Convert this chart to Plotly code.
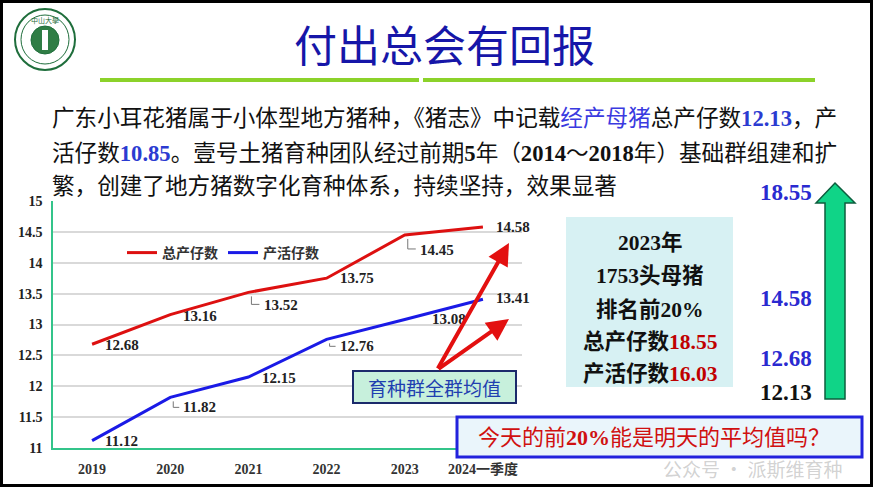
import plotly.graph_objects as go

# ---------------- data ----------------
categories = ["2019", "2020", "2021", "2022", "2023", "2024一季度"]
total_born = [12.68, 13.16, 13.52, 13.75, 14.45, 14.58]   # 总产仔数
born_alive = [11.12, 11.82, 12.15, 12.76, 13.08, 13.41]   # 产活仔数
series_names = ["总产仔数", "产活仔数"]
y_ticks = [11, 11.5, 12, 12.5, 13, 13.5, 14, 14.5, 15]
right_values = ["18.55", "14.58", "12.68", "12.13"]
box_lines = ["2023年", "1753头母猪", "排名前20%"]
top20_total, top20_alive = "18.55", "16.03"

# label offsets (pixels) for data labels: (xshift, yshift)
red_offsets = [(11, -1), (11, -1), (14, -13), (11, 0), (13, -15), (11, 0)]
blue_offsets = [(11, 0), (11, -10), (12, -1), (11, -7), (25, 1), (11, 1)]
# leader lines (pixel path relative to point), None = no leader
red_leaders = [None, None, "M 3,-4 L 3,-12 L 11,-12", None, "M 3,-4 L 3,-14 L 11,-14", None]
blue_leaders = [None, "M 3,-4 L 3,-10 L 9,-10", None, "M 3,-4 L 3,-7 L 9,-7", None, None]

W, H = 873, 487
def px(x): return x / W
def py(y): return 1 - y / H

CJK = "Noto Sans CJK SC"
SERIF = "Liberation Serif"
RED = "#dd1010"
BLUE = "#1a1ae6"

fig = go.Figure()
fig.add_trace(go.Scatter(x=categories, y=total_born, mode="lines", name=series_names[0],
                         line=dict(color=RED, width=3)))
fig.add_trace(go.Scatter(x=categories, y=born_alive, mode="lines", name=series_names[1],
                         line=dict(color=BLUE, width=3)))

ann = []
shapes = []

def text(x, y, t, size, color, family=CJK, xa="center", ya="middle", weight="normal"):
    ann.append(dict(x=px(x), y=py(y), xref="paper", yref="paper", text=t, showarrow=False,
                    xanchor=xa, yanchor=ya,
                    font=dict(family=family, size=size, color=color, weight=weight)))

# data labels
for series, offs, leaders in ((total_born, red_offsets, red_leaders), (born_alive, blue_offsets, blue_leaders)):
    for i, (v, (xs, ys), ld) in enumerate(zip(series, offs, leaders)):
        ann.append(dict(x=i, y=v, xref="x", yref="y", text=f"{v:.2f}", showarrow=False,
                        xanchor="left", yanchor="middle", xshift=xs, yshift=ys,
                        font=dict(family=SERIF, size=15, color="#222222", weight="bold")))
        if ld:
            shapes.append(dict(type="path", xref="x", yref="y", xsizemode="pixel", ysizemode="pixel",
                               xanchor=i, yanchor=v, path=ld, line=dict(color="#777777", width=1)))

# frame
shapes.append(dict(type="rect", xref="paper", yref="paper", x0=0, y0=0, x1=1, y1=1,
                   line=dict(color="black", width=6), layer="above"))

# logo
shapes.append(dict(type="circle", xref="paper", yref="paper", x0=px(15), x1=px(75), y0=py(70), y1=py(9),
                   line=dict(color="#1f6e3c", width=2), fillcolor="white"))
shapes.append(dict(type="circle", xref="paper", yref="paper", x0=px(21), x1=px(69), y0=py(64), y1=py(15),
                   line=dict(color="#1f6e3c", width=1), fillcolor="white"))
shapes.append(dict(type="circle", xref="paper", yref="paper", x0=px(31), x1=px(59), y0=py(54), y1=py(26),
                   line=dict(color="#1f6e3c", width=1), fillcolor="#2f7d45"))
shapes.append(dict(type="rect", xref="paper", yref="paper", x0=px(42), x1=px(48), y0=py(50), y1=py(30),
                   line=dict(width=0), fillcolor="white"))
text(45, 20, "中山大學", 7, "#1f6e3c")

# title
text(445, 43, "付出总会有回报", 43, "#1616a8")
shapes.append(dict(type="line", xref="paper", yref="paper", x0=px(100), x1=px(419), y0=py(80), y1=py(80),
                   line=dict(color="#8cd22a", width=4)))
shapes.append(dict(type="line", xref="paper", yref="paper", x0=px(423), x1=px(815), y0=py(80), y1=py(80),
                   line=dict(color="#8cd22a", width=4)))

# body text
def num(s, color="#2b3bd1"):
    return f'<span style="font-family:{SERIF};color:{color}"><b>{s}</b></span>'
body = [
    "广东小耳花猪属于小体型地方猪种，《猪志》中记载" + '<span style="color:#3a3ae0">经产母猪</span>'
    + "总产仔数" + num("12.13") + "，产",
    "活仔数" + num("10.85") + "。壹号土猪育种团队经过前期" + num("5", "#111") + "年（" + num("2014", "#111")
    + "～" + num("2018", "#111") + "年）基础群组建和扩",
    "繁，创建了地方猪数字化育种体系，持续坚持，效果显著",
]
for t, yy in zip(body, [117, 152, 184]):
    text(50, yy, t, 22.6, "#111111", xa="left")

# top 20% box
shapes.append(dict(type="rect", xref="paper", yref="paper", x0=px(566), x1=px(733), y0=py(387), y1=py(217),
                   line=dict(width=0), fillcolor="#d7f1f3"))
box_texts = box_lines + ["总产仔数" + num(top20_total, "#c00000"), "产活仔数" + num(top20_alive, "#c00000")]
for t, yy in zip(box_texts, [240, 273, 307, 339, 371]):
    t2 = t.replace("2023", num("2023", "#111")).replace("1753", num("1753", "#111")).replace("20%", num("20%", "#111"))
    text(650, yy, t2, 21.5, "#111111", weight="bold")

# big green arrow
pts = [(835, 183), (855, 203), (845, 203), (845, 399), (825, 399), (825, 203), (816, 203)]
path = "M " + " L ".join(f"{px(a)},{py(b)}" for a, b in pts) + " Z"
shapes.append(dict(type="path", xref="paper", yref="paper", path=path,
                   fillcolor="#10d487", line=dict(color="#0c5e3e", width=1.5)))
for t, yy, col in zip(right_values, [192, 298, 358, 392], ["#2a2ad0", "#2a2ad0", "#2a2ad0", "#111111"]):
    text(814, yy, f"<b>{t}</b>", 23, col, family=SERIF, xa="right")

# 育种群全群均值 box with red arrows
for hx, hy in [(509, 243), (509, 319)]:
    ann.append(dict(x=px(hx), y=py(hy), xref="paper", yref="paper", text="", showarrow=True,
                    ax=437 - hx, ay=370 - hy, arrowhead=2, arrowsize=1.1, arrowwidth=4, arrowcolor="#e31010"))
shapes.append(dict(type="rect", xref="paper", yref="paper", x0=px(353), x1=px(516), y0=py(403), y1=py(371),
                   line=dict(color="#1b2a6b", width=2), fillcolor="#c7f0dc", layer="above"))
text(434, 387, "育种群全群均值", 19, "#1f3fb0")

# question box
shapes.append(dict(type="rect", xref="paper", yref="paper", x0=px(457), x1=px(862), y0=py(457), y1=py(417),
                   line=dict(color="#2222dd", width=3), fillcolor="#eaf5fb", layer="above"))
text(654, 435, "今天的前" + num("20%", "#d01010") + "能是明天的平均值吗？", 22, "#d01010")
# watermark
text(845, 468, "公众号 · 派斯维育种", 19, "rgba(140,140,140,0.4)", xa="right")

fig.update_layout(
    width=W, height=H, margin=dict(l=0, r=0, t=0, b=0, autoexpand=False),
    paper_bgcolor="white", plot_bgcolor="white",
    xaxis=dict(domain=[px(53), px(522)], type="category", range=[-0.5, 5.5], showgrid=False,
               showline=True, linecolor="#33c48a", linewidth=1.5, ticks="", ticklabelstandoff=7,
               tickfont=dict(family=SERIF + ", " + CJK, size=14, color="#333333", weight="bold")),
    yaxis=dict(domain=[py(448), py(201)], range=[11, 15], tickvals=y_ticks, showgrid=True,
               gridcolor="#d9d9d9", gridwidth=1.5, showline=True, linecolor="#33c48a", linewidth=1.5,
               ticks="", ticklabelstandoff=6, zeroline=False,
               tickfont=dict(family=SERIF, size=14, color="#222222", weight="bold")),
    legend=dict(orientation="h", x=px(122), y=py(253), xanchor="left", yanchor="middle",
                bgcolor="rgba(0,0,0,0)", font=dict(family=CJK, size=14, color="#333333", weight="bold"),
                itemwidth=30, tracegroupgap=0),
    annotations=ann, shapes=shapes,
)
fig.write_html("out.html", config={"displayModeBar": False},
               post_script="document.body.style.margin='0px';document.body.style.overflow='hidden';")
